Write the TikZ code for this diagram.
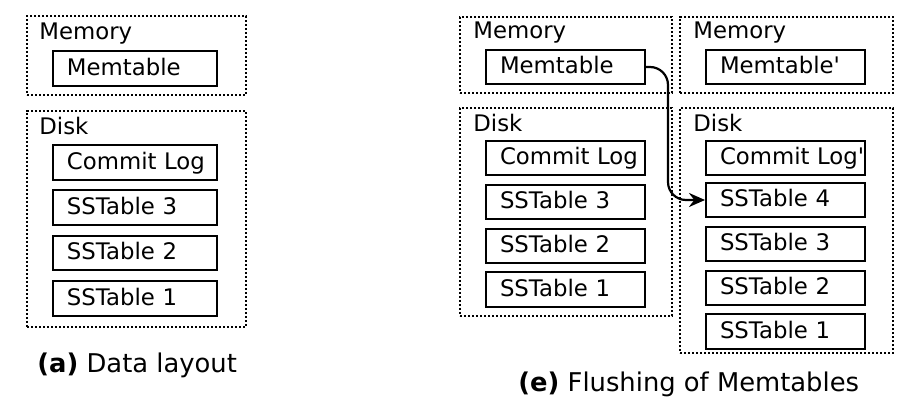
\documentclass[tikz,border=0pt]{standalone}
\usepackage{fontspec}
\setmainfont{DejaVu Sans}
\usepackage{tikz}
\usetikzlibrary{arrows.meta}
\usetikzlibrary{positioning}

\begin{document}
\begin{tikzpicture}[x=0.5pt,y=-0.5pt,
                    font=\fontsize{11.4}{13}\selectfont,
                    area/.style={draw, line width=0.85pt, dash pattern=on 1.2pt off 0.8pt},
                    tbl/.style={draw, line width=1pt, text width=#1, inner xsep=7pt,
                                minimum height=15.5pt, align=left,
                                text height=1.6ex, text depth=.35ex},
                    tbl/.default=68pt,
                    lbl/.style={anchor=base west, inner sep=0pt},
                    caption/.style={anchor=base west, inner sep=0pt,
                                font=\fontsize{12.9}{15}\selectfont},
                    flow/.style={-{Stealth[length=8pt,width=7pt]}, line width=1.1pt,
                                 rounded corners=9pt}]
 \useasboundingbox (0,0) rectangle (906,411);
 \node[area, minimum width=109.5pt, minimum height=39.5pt] (memA) at (136.5,55.5) {};
 \node[lbl] at (39,40) {Memory};
 \node[tbl] (mtA) at (135,68.5) {Memtable};
 \node[area, minimum width=109.5pt, minimum height=108pt] (diskA) at (136.5,219) {};
 \node[lbl] at (39,135) {Disk};
 \node[tbl] (clA) at (135,162.5) {Commit~Log};
 \node[tbl] (s3A) at (135,207.8) {SSTable~3};
 \node[tbl] (s2A) at (135,253.1) {SSTable~2};
 \node[tbl] (s1A) at (135,298.4) {SSTable~1};
 \node[caption] at (37,373) {\textbf{(a)} Data layout};

 \node[area, minimum width=106pt, minimum height=38pt] (memL) at (566,55) {};
 \node[lbl] at (473,39) {Memory};
 \node[tbl=65.5pt] (mtL) at (565.5,67) {Memtable};
 \node[area, minimum width=106pt, minimum height=104pt] (diskL) at (566,212) {};
 \node[lbl] at (473,132) {Disk};
 \node[tbl=65.5pt] (clL) at (565.5,158) {Commit~Log};
 \node[tbl=65.5pt] (s3L) at (565.5,202) {SSTable~3};
 \node[tbl=65.5pt] (s2L) at (565.5,246) {SSTable~2};
 \node[tbl=65.5pt] (s1L) at (565.5,289.5) {SSTable~1};

 \node[area, minimum width=106.5pt, minimum height=38pt] (memR) at (786.5,55) {};
 \node[lbl] at (693,39) {Memory};
 \node[tbl=65.5pt] (mtR) at (785.5,67) {Memtable\textquotesingle};
 \node[area, minimum width=106.5pt, minimum height=122.5pt] (diskR) at (786.5,230.5) {};
 \node[lbl] at (693,132) {Disk};
 \node[tbl=65.5pt] (clR) at (785.5,158) {Commit~Log\textquotesingle};
 \node[tbl=65.5pt] (s4R) at (785.5,200) {SSTable~4};
 \node[tbl=65.5pt] (s3R) at (785.5,244) {SSTable~3};
 \node[tbl=65.5pt] (s2R) at (785.5,288) {SSTable~2};
 \node[tbl=65.5pt] (s1R) at (785.5,331.5) {SSTable~1};
 \node[caption] at (518,392) {\textbf{(e)} Flushing of Memtables};

 \coordinate (bend) at (668,130);
 \draw[flow] (mtL.east) -| (bend) |- (s4R.west);
\end{tikzpicture}
\end{document}
